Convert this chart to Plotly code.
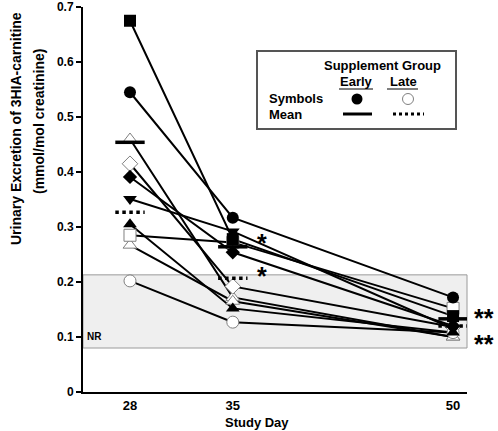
import plotly.graph_objects as go

# ---------------- data ----------------
days = [28, 35, 50]

early_square = [0.675, 0.278, 0.138]
early_circle = [0.545, 0.317, 0.172]
early_diamond = [0.391, 0.254, 0.120]
early_tri_down = [0.351, 0.292, 0.115]
early_tri_up = [0.305, 0.152, 0.108]

late_tri_up_a = [0.460, 0.172, 0.100]
late_diamond = [0.415, 0.192, 0.118]
late_tri_up_b = [0.267, 0.165, 0.100]
late_square = [0.285, 0.272, 0.152]
late_circle = [0.202, 0.127, 0.108]

early_mean = [0.454, 0.264, 0.133]
late_mean = [0.327, 0.207, 0.120]

nr_range = [0.080, 0.213]

tick_vals_y = [0, 0.1, 0.2, 0.3, 0.4, 0.5, 0.6, 0.7]
tick_text_y = ["0", "0.1", "0.2", "0.3", "0.4", "0.5", "0.6", "0.7"]

# ---------------- layout helpers ----------------
W, H = 498, 431
L, R, T, B = 83, 467, 7, 392
FONT = "Liberation Sans, Arial, sans-serif"


def px(X):
    return (X - L) / (R - L)


def py(Y):
    return (B - Y) / (B - T)


fig = go.Figure()

late_series = [
    (late_tri_up_a, "triangle-up"),
    (late_diamond, "diamond"),
    (late_tri_up_b, "triangle-up"),
    (late_square, "square"),
    (late_circle, "circle"),
]
early_series = [
    (early_square, "square"),
    (early_circle, "circle"),
    (early_diamond, "diamond"),
    (early_tri_down, "triangle-down"),
    (early_tri_up, "triangle-up"),
]

# connecting lines first
for vals, _ in late_series + early_series:
    fig.add_trace(go.Scatter(x=days, y=vals, mode="lines",
                             line=dict(color="black", width=2),
                             showlegend=False, hoverinfo="skip"))

# late (open) markers
for vals, sym in late_series:
    fig.add_trace(go.Scatter(x=days, y=vals, mode="markers",
                             marker=dict(symbol=sym, size=12, color="white",
                                         line=dict(color="#808080", width=1)),
                             showlegend=False))

# early (filled) markers
for vals, sym in early_series:
    sz = 11 if sym == "diamond" else 12
    fig.add_trace(go.Scatter(x=days, y=vals, mode="markers",
                             marker=dict(symbol=sym, size=sz, color="black",
                                         line=dict(color="black", width=0)),
                             showlegend=False))

# mean bars
for d, m in zip(days, early_mean):
    fig.add_trace(go.Scatter(x=[d - 1.0, d + 1.0], y=[m, m], mode="lines",
                             line=dict(color="black", width=3.5),
                             showlegend=False, hoverinfo="skip"))
for d, m in zip(days, late_mean):
    fig.add_trace(go.Scatter(x=[d - 1.0, d + 1.0], y=[m, m], mode="lines",
                             line=dict(color="black", width=3.5, dash="dot"),
                             showlegend=False, hoverinfo="skip"))

shapes = []
# NR reference band
shapes.append(dict(type="rect", xref="paper", yref="y", x0=0, x1=1,
                   y0=nr_range[0], y1=nr_range[1], fillcolor="#efefef",
                   line=dict(color="#9a9a9a", width=1), layer="below"))

# legend box
shapes.append(dict(type="rect", xref="paper", yref="paper",
                   x0=px(257), x1=px(456), y0=py(129), y1=py(51),
                   fillcolor="white", line=dict(color="#555555", width=2),
                   layer="above"))
# underlines
shapes.append(dict(type="line", xref="paper", yref="paper",
                   x0=px(339), x1=px(373), y0=py(89), y1=py(89),
                   line=dict(color="black", width=1)))
shapes.append(dict(type="line", xref="paper", yref="paper",
                   x0=px(387), x1=px(418), y0=py(89), y1=py(89),
                   line=dict(color="black", width=1)))
# legend symbols
shapes.append(dict(type="circle", xref="paper", yref="paper",
                   x0=px(351.5), x1=px(362.5), y0=py(104.5), y1=py(93.5),
                   fillcolor="black", line=dict(color="black", width=0)))
shapes.append(dict(type="circle", xref="paper", yref="paper",
                   x0=px(402.5), x1=px(413.5), y0=py(104.5), y1=py(93.5),
                   fillcolor="white", line=dict(color="#808080", width=1)))
shapes.append(dict(type="line", xref="paper", yref="paper",
                   x0=px(343), x1=px(372), y0=py(114), y1=py(114),
                   line=dict(color="black", width=3)))
shapes.append(dict(type="line", xref="paper", yref="paper",
                   x0=px(393), x1=px(424), y0=py(114), y1=py(114),
                   line=dict(color="black", width=3, dash="dot")))

ann = []


def txt(text, X, Y, size=13, xanchor="center", angle=0):
    ann.append(dict(text=text, xref="paper", yref="paper", x=px(X), y=py(Y),
                    xanchor=xanchor, yanchor="middle", showarrow=False,
                    textangle=angle,
                    font=dict(family=FONT, size=size, color="black")))


txt("<b>Supplement Group</b>", 382, 65)
txt("<b>Early</b>", 356, 82)
txt("<b>Late</b>", 403, 82)
txt("<b>Symbols</b>", 267, 99, xanchor="left")
txt("<b>Mean</b>", 267, 114, xanchor="left")

# significance marks
txt("<b>*</b>", 262, 243, size=25)
txt("<b>*</b>", 262, 276, size=25)
txt("<b>**</b>", 484, 318, size=25)
txt("<b>**</b>", 484, 344, size=25)

# NR label
txt("<b>NR</b>", 94, 336, size=10)

# axis titles
txt("<b>Urinary Excretion of 3HIA-carnitine</b>", 16, 129, size=14, angle=-90)
txt("<b>(mmol/mol creatinine)</b>", 39, 122, size=14, angle=-90)
txt("<b>Study Day</b>", 257, 423, size=13)

fig.update_layout(
    width=W, height=H,
    margin=dict(l=L, r=W - R, t=T, b=H - B, pad=0, autoexpand=False),
    paper_bgcolor="white", plot_bgcolor="white",
    shapes=shapes, annotations=ann,
    font=dict(family=FONT, color="black"),
    showlegend=False,
)
fig.update_xaxes(range=[24.8, 50.95], tickvals=days,
                 ticktext=["<b>%d</b>" % d for d in days],
                 tickfont=dict(size=13, family=FONT), automargin=False,
                 showgrid=False, zeroline=False, showline=True,
                 linecolor="black", linewidth=2, ticks="")
fig.update_yaxes(range=[0, 0.7], tickvals=tick_vals_y,
                 ticktext=["<b>%s</b>" % t for t in tick_text_y],
                 tickfont=dict(size=12, family=FONT), automargin=False,
                 showgrid=False, zeroline=False, showline=True,
                 linecolor="black", linewidth=2, ticks="outside",
                 ticklen=5, tickwidth=2, tickcolor="black")

fig.write_html("out.html",
               config={"displayModeBar": False},
               post_script="document.body.style.margin='0';"
                           "document.body.style.padding='0';")
